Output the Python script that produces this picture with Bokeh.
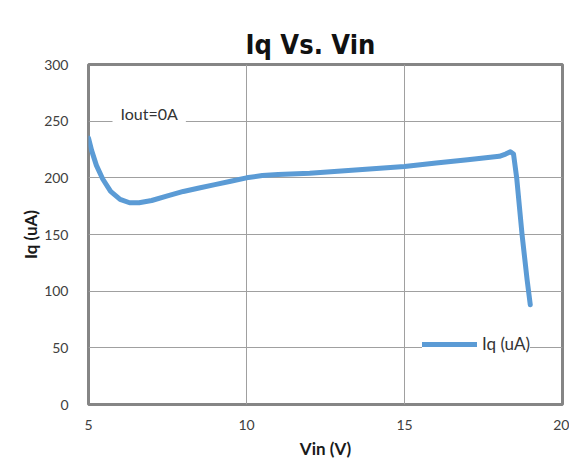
from bokeh.plotting import figure
from bokeh.models import Range1d, FixedTicker, Label, Legend, LegendItem, Title
from bokeh.embed import file_html
from bokeh.resources import INLINE

vin = [5.0, 5.1, 5.25, 5.45, 5.7, 6.0, 6.3, 6.6, 7.0, 7.5, 8.0, 8.5, 9.0, 9.5, 10.0, 10.5,
       11.0, 12.0, 13.0, 14.0, 15.0, 16.0, 17.0, 18.0, 18.2, 18.35, 18.45, 18.55, 18.72, 18.88, 18.98]
iq = [235, 224, 211, 199, 188, 181, 178, 178, 180, 184, 188, 191, 194, 197, 200, 202,
      203, 204, 206, 208, 210, 213, 216, 219, 221, 223, 221, 200, 150, 110, 88]
x_ticks = [5, 10, 15, 20]
y_ticks = [0, 50, 100, 150, 200, 250, 300]
title_text = "Iq Vs. Vin"
note_text = "Iout=0A"

FONT = "Lato"
TITLE_FONT = "'Noto Sans ExtraCondensed', 'Noto Sans Condensed', 'Liberation Sans Narrow', 'DejaVu Sans Condensed', 'Noto Sans'"

p = figure(width=569, height=462, output_backend="svg", toolbar_location=None,
           x_range=Range1d(5, 20), y_range=Range1d(0, 300),
           min_border_left=88, min_border_right=7, min_border_top=64, min_border_bottom=58)
p.title = None
t = Title(text=title_text, align="left", offset=157, vertical_align="bottom", standoff=10,
          text_font=TITLE_FONT, text_font_size="27px", text_font_style="bold",
          text_color="#111111")
p.add_layout(t, "above")

p.background_fill_color = "white"
p.border_fill_color = "white"
p.outline_line_color = "#858585"
p.outline_line_width = 3

p.xaxis.ticker = FixedTicker(ticks=x_ticks)
p.yaxis.ticker = FixedTicker(ticks=y_ticks)
for ax in (p.xaxis, p.yaxis):
    ax.axis_line_color = None
    ax.major_tick_line_color = None
    ax.minor_tick_line_color = None
    ax.major_label_text_font = FONT
    ax.major_label_text_font_size = "14px"
    ax.major_label_text_color = "#404040"
    ax.axis_label_text_font = FONT
    ax.axis_label_text_font_style = "bold"
    ax.axis_label_text_font_size = "17px"
    ax.axis_label_text_color = "#1a1a1a"
p.xaxis.axis_label = "Vin (V)"
p.yaxis.axis_label = "Iq (uA)"
p.xaxis.major_label_standoff = 9
p.yaxis.major_label_standoff = 14
p.xaxis.axis_label_standoff = 5
p.yaxis.axis_label_standoff = 0

p.xgrid.grid_line_color = "#a0a0a0"
p.ygrid.grid_line_color = "#a0a0a0"
p.xgrid.grid_line_width = 1
p.ygrid.grid_line_width = 1

r = p.line(vin, iq, line_color="#5b9bd5", line_width=5, line_join="round", line_cap="round")

lab = Label(x=5.76, y=257, text=note_text, text_font=FONT, text_font_size="16px",
            text_baseline="middle", text_color="#333333",
            background_fill_color="white", padding=8)
p.add_layout(lab)

leg = Legend(items=[LegendItem(label="Iq (uA)", renderers=[r])], location=(334, 50),
             label_text_font=FONT, label_text_font_size="17px", label_text_color="#333333",
             glyph_width=55, border_line_color=None, background_fill_alpha=1.0,
             padding=4, spacing=0, label_standoff=5)
p.add_layout(leg)

open("out.html", "w").write(file_html(p, INLINE))
